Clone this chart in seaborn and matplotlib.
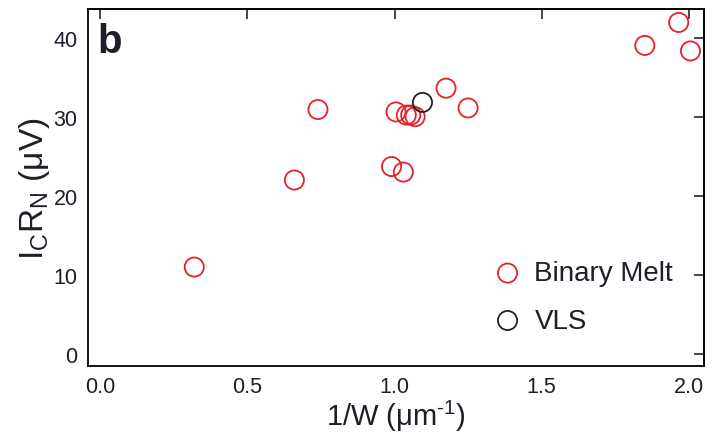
import matplotlib
matplotlib.use('Agg')
import matplotlib.pyplot as plt
import pandas as pd
import seaborn as sns

# values
melt_x = [0.32, 0.66, 0.74, 0.99, 1.005, 1.03, 1.04, 1.055, 1.07, 1.175, 1.25, 1.85, 1.965, 2.005]
melt_y = [11.0, 22.0, 30.9, 23.7, 30.6, 23.0, 30.2, 30.2, 30.0, 33.6, 31.1, 39.0, 41.9, 38.3]
vls_x = [1.095]
vls_y = [31.8]

xticks = [0.0, 0.5, 1.0, 1.5, 2.0]
yticks = [0, 10, 20, 30, 40]

df = pd.concat([
    pd.DataFrame({'x': melt_x, 'y': melt_y, 'kind': 'Binary Melt'}),
    pd.DataFrame({'x': vls_x, 'y': vls_y, 'kind': 'VLS'}),
])

sns.set_style('white')
plt.rcParams['font.family'] = ['Liberation Sans', 'DejaVu Sans']
plt.rcParams['mathtext.fontset'] = 'custom'
plt.rcParams['mathtext.rm'] = 'Liberation Sans'
plt.rcParams['mathtext.it'] = 'Liberation Sans:italic'

txt = '#1e1e28'

fig = plt.figure(figsize=(7.14, 4.35), dpi=100)
ax = fig.add_axes([0.1232, 0.1563, 0.8628, 0.8207])

colors = {'Binary Melt': '#e8202a', 'VLS': '#222222'}
for kind, sub in df.groupby('kind'):
    sns.scatterplot(data=sub, x='x', y='y', ax=ax, s=190, marker='o',
                    facecolors='none', edgecolor=colors[kind], linewidth=1.3,
                    label=kind)

ax.set_xlim(-0.041, 2.051)
ax.set_ylim(-1.5, 43.6)
ax.set_xticks(xticks)
ax.set_xticklabels([f'{v:.1f}' for v in xticks])
ax.set_yticks(yticks)

for s in ax.spines.values():
    s.set_color('black')
    s.set_linewidth(1.3)

ax.tick_params(axis='both', labelsize=15.5, labelcolor=txt, color='black',
               length=9, width=1.2, direction='inout', pad=3)

# top / right ticks point inward only
top = ax.secondary_xaxis('top')
top.set_xticks(xticks)
top.tick_params(direction='in', length=7, width=1.2, labeltop=False)
right = ax.secondary_yaxis('right')
right.set_yticks(yticks)
right.tick_params(direction='in', length=7, width=1.2, labelright=False)
top.spines['top'].set_linewidth(1.3)
right.spines['right'].set_linewidth(1.3)

ax.set_xlabel('1/W (μm$^{\\text{-1}}$)', fontsize=21, color=txt)
ax.xaxis.set_label_coords(0.5, -0.088)
ax.set_ylabel('I$_{\\mathrm{C}}$R$_{\\mathrm{N}}$ (μV)', fontsize=24, color=txt)
ax.yaxis.set_label_coords(-0.059, 0.5)

ax.text(0.016, 0.963, 'b', transform=ax.transAxes, fontsize=29,
        fontweight='bold', color=txt, va='top', ha='left')

leg = ax.legend(loc='upper left', bbox_to_anchor=(0.636, 0.327), frameon=False,
                fontsize=20, handlelength=1.2, handletextpad=0.37,
                labelspacing=0.77, labelcolor=txt, borderaxespad=0)

fig.savefig('out.png', dpi=100)
